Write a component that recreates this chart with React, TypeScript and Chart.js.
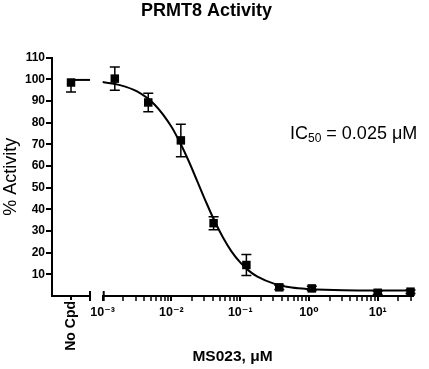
import React, { useEffect, useRef } from 'react';
import { Chart, registerables } from 'chart.js';

Chart.register(...registerables);

// ---------- data ----------
const chartTitle = 'PRMT8 Activity';
const xAxisTitle = 'MS023, μM';
const yAxisTitle = '% Activity';
const noCpdLabel = 'No Cpd';
const ic50Parts = ['IC', '50', ' = 0.025 μM'];

const concentrations = [0.0015, 0.0046, 0.0137, 0.041, 0.123, 0.37, 1.1, 10, 30];
const activity = [100.3, 89.3, 71.8, 33.6, 14.3, 4.0, 3.5, 1.5, 2.0];
const activityErr = [5.4, 4.3, 7.5, 3.0, 4.8, 1.0, 1.0, 0.8, 0.8];

const noCpdActivity = 98.5;
const noCpdErrLow = 4.4;
const noCpdErrHigh = 0;
const noCpdTopLevel = 99.7;

const fitX = [0.001, 0.00178, 0.00316, 0.00562, 0.01, 0.0133, 0.0178, 0.0237, 0.0316, 0.0422, 0.0562, 0.075, 0.1, 0.133, 0.178, 0.316, 0.562, 1, 3.16, 10, 32.6];
const fitY = [98.7, 97.3, 94.4, 88.5, 78.1, 70.8, 62.3, 53.0, 43.6, 34.7, 27.0, 20.5, 15.5, 11.7, 8.9, 5.6, 3.9, 3.2, 2.6, 2.5, 2.5];

const yTicks = [10, 20, 30, 40, 50, 60, 70, 80, 90, 100, 110];
const xDecades = [0.001, 0.01, 0.1, 1, 10];
const xDecadeLabels = ['10⁻³', '10⁻²', '10⁻¹', '10⁰', '10¹'];
const xMinorTicks = [
  0.002, 0.003, 0.004, 0.005, 0.006, 0.007, 0.008, 0.009,
  0.02, 0.03, 0.04, 0.05, 0.06, 0.07, 0.08, 0.09,
  0.2, 0.3, 0.4, 0.5, 0.6, 0.7, 0.8, 0.9,
  2, 3, 4, 5, 6, 7, 8, 9,
  20, 30,
];

// ---------- layout config ----------
const X_MIN = 0.001;
const X_MAX = 32.6;
const NO_POS = 1.5;
const NO_END = 3;
const NO_MAX = 4;
const FONT = '"Liberation Sans", Arial, "DejaVu Sans", sans-serif';

const isDecade = (v: number) => xDecades.some((d) => Math.abs(d - v) / d < 1e-6);

const decorPlugin = {
  id: 'decor',
  beforeDatasetsDraw(chart: any) {
    const { ctx } = chart;
    const xLog = chart.scales.x;
    const xNo = chart.scales.xNo;
    const y = chart.scales.y;
    ctx.save();
    ctx.strokeStyle = '#000';
    ctx.lineWidth = 1.5;
    const cap = 5;
    const bar = (px: number, mean: number, lo: number, hi: number) => {
      const yHi = y.getPixelForValue(mean + hi);
      const yLo = y.getPixelForValue(mean - lo);
      ctx.beginPath();
      ctx.moveTo(px, yHi);
      ctx.lineTo(px, yLo);
      if (hi > 0) {
        ctx.moveTo(px - cap, yHi);
        ctx.lineTo(px + cap, yHi);
      }
      if (lo > 0) {
        ctx.moveTo(px - cap, yLo);
        ctx.lineTo(px + cap, yLo);
      }
      ctx.stroke();
    };
    concentrations.forEach((c, i) => bar(xLog.getPixelForValue(c), activity[i], activityErr[i], activityErr[i]));
    bar(xNo.getPixelForValue(NO_POS), noCpdActivity, noCpdErrLow, noCpdErrHigh);
    ctx.restore();
  },
  afterDraw(chart: any) {
    const { ctx } = chart;
    const xLog = chart.scales.x;
    const xNo = chart.scales.xNo;
    const axisY = xLog.top;
    ctx.save();
    ctx.strokeStyle = '#000';
    ctx.lineWidth = 2;
    const endNo = xNo.getPixelForValue(NO_END);
    ctx.beginPath();
    ctx.moveTo(xNo.left, axisY);
    ctx.lineTo(endNo, axisY);
    // caps on the broken axis
    ctx.moveTo(endNo, axisY - 5);
    ctx.lineTo(endNo, axisY + 5);
    ctx.moveTo(xLog.left + 1, axisY - 5);
    ctx.lineTo(xLog.left + 1, axisY + 5);
    ctx.stroke();

    // IC50 annotation
    ctx.fillStyle = '#000';
    ctx.textBaseline = 'alphabetic';
    ctx.textAlign = 'left';
    let tx = 290;
    const ty = 139;
    ctx.font = `18px ${FONT}`;
    ctx.fillText(ic50Parts[0], tx, ty);
    tx += ctx.measureText(ic50Parts[0]).width;
    ctx.font = `12px ${FONT}`;
    ctx.fillText(ic50Parts[1], tx, ty + 3);
    tx += ctx.measureText(ic50Parts[1]).width;
    ctx.font = `18px ${FONT}`;
    ctx.fillText(ic50Parts[2], tx, ty);
    ctx.restore();
  },
};

export default function App() {
  const ref = useRef<HTMLCanvasElement | null>(null);

  useEffect(() => {
    if (!ref.current) return;
    Chart.defaults.color = '#000';
    Chart.defaults.font.family = FONT;

    const chart = new Chart(ref.current, {
      type: 'line',
      data: {
        datasets: [
          {
            label: 'fit',
            xAxisID: 'x',
            yAxisID: 'y',
            data: fitX.map((x, i) => ({ x, y: fitY[i] })),
            borderColor: '#000',
            borderWidth: 2,
            pointRadius: 0,
            cubicInterpolationMode: 'monotone',
            fill: false,
            clip: false,
            order: 2,
          } as any,
          {
            label: 'MS023',
            xAxisID: 'x',
            yAxisID: 'y',
            data: concentrations.map((x, i) => ({ x, y: activity[i] })),
            showLine: false,
            pointStyle: 'rect',
            pointRadius: 6,
            backgroundColor: '#000',
            borderColor: '#000',
            borderWidth: 0,
            clip: false,
            order: 0,
          } as any,
          {
            label: 'No Cpd top',
            xAxisID: 'xNo',
            yAxisID: 'y',
            data: [
              { x: NO_POS, y: noCpdTopLevel },
              { x: NO_END, y: noCpdTopLevel },
            ],
            borderColor: '#000',
            borderWidth: 2,
            pointRadius: 0,
            clip: false,
            order: 2,
          } as any,
          {
            label: 'No Cpd',
            xAxisID: 'xNo',
            yAxisID: 'y',
            data: [{ x: NO_POS, y: noCpdActivity }],
            showLine: false,
            pointStyle: 'rect',
            pointRadius: 6,
            backgroundColor: '#000',
            borderColor: '#000',
            borderWidth: 0,
            clip: false,
            order: 0,
          } as any,
        ],
      },
      options: {
        animation: false,
        responsive: true,
        maintainAspectRatio: false,
        layout: { padding: { left: 0, right: 16, top: 0, bottom: 0 } },
        plugins: {
          legend: { display: false },
          tooltip: { enabled: false },
          title: {
            display: true,
            text: chartTitle,
            color: '#000',
            font: { size: 18, weight: 'bold', family: FONT },
            padding: { top: 0, bottom: 36 },
          },
        },
        scales: {
          y: {
            type: 'linear',
            position: 'left',
            min: 0,
            max: 110,
            afterBuildTicks: (s: any) => {
              s.ticks = yTicks.map((v) => ({ value: v }));
            },
            afterFit: (s: any) => {
              s.width = 52;
            },
            ticks: {
              color: '#000',
              font: { size: 12, weight: 'bold', family: FONT },
              padding: 1,
            },
            grid: {
              drawOnChartArea: false,
              drawTicks: true,
              tickLength: 6,
              tickWidth: 2,
              tickColor: '#000',
              lineWidth: 2,
              color: '#000',
            },
            border: { display: true, color: '#000', width: 2 },
            title: {
              display: true,
              text: yAxisTitle,
              color: '#000',
              font: { size: 18, family: FONT },
              padding: { top: 0, bottom: 0 },
            },
          },
          xNo: {
            type: 'linear',
            axis: 'x',
            position: 'bottom',
            stack: 'xs',
            stackWeight: 50.7,
            weight: 0,
            min: 0,
            max: NO_MAX,
            afterBuildTicks: (s: any) => {
              s.ticks = [{ value: NO_POS }];
            },
            afterFit: (s: any) => {
              s.height = 60;
            },
            ticks: {
              autoSkip: false,
              minRotation: 90,
              maxRotation: 90,
              color: '#000',
              font: { size: 14, weight: 'bold', family: FONT },
              padding: 1,
              callback: () => noCpdLabel,
            },
            grid: {
              drawOnChartArea: false,
              drawTicks: true,
              tickLength: 4,
              tickWidth: 2,
              tickColor: '#000',
              lineWidth: 2,
            },
            border: { display: false },
          } as any,
          x: {
            type: 'logarithmic',
            axis: 'x',
            position: 'bottom',
            stack: 'xs',
            stackWeight: 310.3,
            weight: 0,
            min: X_MIN,
            max: X_MAX,
            afterBuildTicks: (s: any) => {
              const vals = [...xDecades, ...xMinorTicks].filter((v) => v >= X_MIN && v <= X_MAX).sort((a, b) => a - b);
              s.ticks = vals.map((v) => ({ value: v, major: isDecade(v) }));
            },
            afterFit: (s: any) => {
              s.height = 60;
            },
            ticks: {
              autoSkip: false,
              minRotation: 0,
              maxRotation: 0,
              color: '#000',
              font: { size: 12.5, weight: 'bold', family: FONT },
              padding: 4,
              callback: (v: any) => {
                const idx = xDecades.findIndex((d) => Math.abs(d - Number(v)) / d < 1e-6);
                return idx >= 0 ? xDecadeLabels[idx] : '';
              },
            },
            grid: {
              drawOnChartArea: false,
              drawTicks: true,
              tickLength: 5,
              tickWidth: (c: any) => (c.tick && isDecade(c.tick.value) ? 2 : 1.5),
              tickColor: '#000',
              lineWidth: 2,
            },
            border: { display: true, color: '#000', width: 2 },
          } as any,
          xT: {
            type: 'linear',
            axis: 'x',
            position: 'bottom',
            weight: 1,
            display: true,
            afterFit: (s: any) => {
              s.height = 13;
            },
            ticks: { display: false },
            grid: { display: false },
            border: { display: false },
            title: {
              display: true,
              text: xAxisTitle,
              color: '#000',
              font: { size: 15.5, weight: 'bold', family: FONT },
              padding: { top: 0, bottom: 3 },
            },
          } as any,
        },
      } as any,
      plugins: [decorPlugin],
    });

    return () => chart.destroy();
  }, []);

  return (
    <div style={{ position: 'absolute', left: 0, top: 0, width: 429, height: 369, background: '#fff' }}>
      <canvas ref={ref} />
    </div>
  );
}
